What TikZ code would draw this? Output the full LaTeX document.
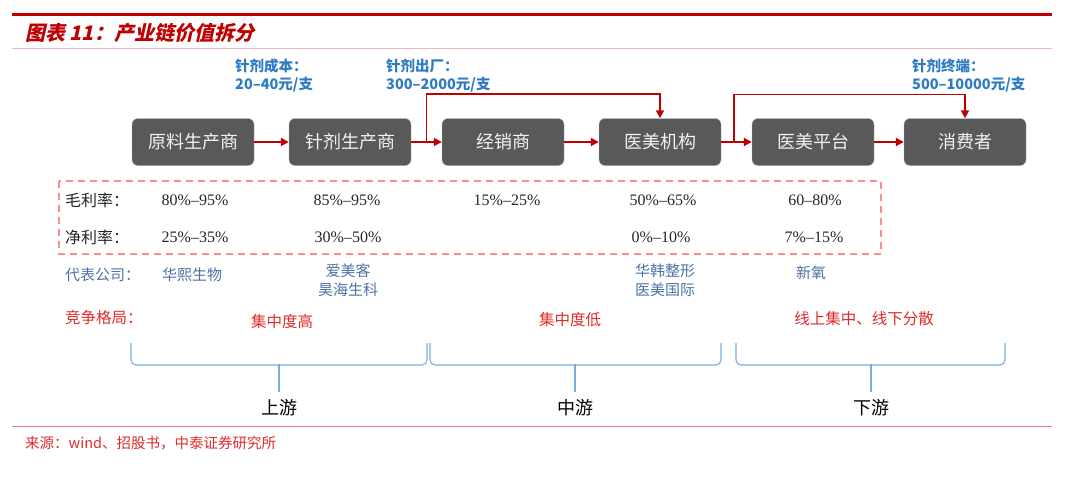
\documentclass[tikz,border=0pt]{standalone}
\usepackage{fontspec}
\setmainfont{Liberation Serif}
\newfontfamily\cjk{Noto Sans CJK SC}
\newfontfamily\cjkit[FakeSlant=0.22]{Noto Sans CJK SC}
\usetikzlibrary{arrows.meta,calc}
\definecolor{dred}{HTML}{C00000}
\definecolor{pinkl}{HTML}{F2B8B8}
\definecolor{boxg}{HTML}{595959}
\definecolor{lblue}{HTML}{2E7BC4}
\definecolor{cblue}{HTML}{4A72A6}
\definecolor{cred}{HTML}{E02A2A}
\definecolor{brc}{HTML}{7AAEDD}
\definecolor{dashc}{HTML}{FF8A8A}
\definecolor{srcline}{HTML}{E77C7C}
\tikzset{
  stage/.style={draw=gray!70, fill=boxg, rounded corners=6pt, minimum width=122pt, minimum height=47pt,
    text=white!95!black, font=\cjk\fontsize{18}{20}\selectfont, inner sep=0pt},
  arr/.style={draw=dred, line width=1.8pt, -{Triangle[length=8pt,width=8pt]}},
  price/.style={text=lblue, font=\cjk\bfseries\fontsize{14.5}{18}\selectfont, align=left, anchor=north west, inner sep=0pt},
  rowlab/.style={font=\cjk\fontsize{16}{18}\selectfont, anchor=west, inner sep=0pt, text=black!85},
  val/.style={font=\fontsize{16}{18}\selectfont, inner sep=0pt, text=black!85},
  comp/.style={font=\cjk\fontsize{15}{19}\selectfont, text=cblue, align=center, inner sep=0pt},
  compet/.style={font=\cjk\fontsize{15.5}{18}\selectfont, text=cred, inner sep=0pt},
  brace/.style={draw=brc, line width=1.1pt, rounded corners=5pt},
  seg/.style={font=\cjk\fontsize{18}{20}\selectfont, text=black, inner sep=0pt},
}
\begin{document}
\begin{tikzpicture}[x=1pt,y=-1pt]
\useasboundingbox (0,0) rectangle (1080,477);
% header
\draw[dred, line width=3pt] (12,14) -- (1052,14);
\node[anchor=west, text=dred, font=\cjkit\bfseries\fontsize{20}{22}\selectfont, inner sep=0pt] (title) at (25,33) {图表 11：产业链价值拆分};
\draw[pinkl, line width=1pt] (12,48) -- (1052,48);
% stages
\node[stage] (b1) at (193,142) {原料生产商};
\node[stage] (b2) at (350,142) {针剂生产商};
\node[stage] (b3) at (503,142) {经销商};
\node[stage] (b4) at (660,142) {医美机构};
\node[stage] (b5) at (813,142) {医美平台};
\node[stage] (b6) at (965,142) {消费者};
% arrows
\draw[arr] (b1) -- (b2);
\draw[arr] (b2) -- (b3);
\draw[arr] (b3) -- (b4);
\draw[arr] (b4) -- (b5);
\draw[arr] (b5) -- (b6);
\coordinate (m1) at ($(b2.east)!0.5!(b3.west)$);
\coordinate (m2) at ($(b4.east)!0.42!(b5.west)$);
\draw[arr] (m1) -- (m1|-0,94) -| (b4.north);
\draw[arr] (m2) -- (m2|-0,94.5) -| (b6.north);
% price labels
\node[price] (p1) at (235,59) {针剂成本：\\20–40元/支};
\node[price] (p2) at (386,59) {针剂出厂：\\300–2000元/支};
\node[price] (p3) at (912,59) {针剂终端：\\500–10000元/支};
% dashed box
\draw[dashc, line width=1.5pt, dash pattern=on 7pt off 5pt] (59,181) rectangle (881,254);
\node[rowlab] (r1) at (65,200) {毛利率：};
\node[rowlab] (r2) at (65,237) {净利率：};
\node[val] (v11) at (195,200) {80\%–95\%};
\node[val] (v12) at (347,200) {85\%–95\%};
\node[val] (v13) at (507,200) {15\%–25\%};
\node[val] (v14) at (663,200) {50\%–65\%};
\node[val] (v15) at (815,200) {60–80\%};
\node[val] (v21) at (195,237) {25\%–35\%};
\node[val] (v22) at (348,237) {30\%–50\%};
\node[val] (v24) at (661,237) {0\%–10\%};
\node[val] (v25) at (814,237) {7\%–15\%};
% companies
\node[comp, anchor=west] (c0) at (65,275) {代表公司：};
\node[comp] (c1) at (192,275) {华熙生物};
\node[comp] (c2) at (348,280) {爱美客\\昊海生科};
\node[comp] (c4) at (665,280) {华韩整形\\医美国际};
\node[comp] (c5) at (811,273) {新氧};
% competition
\node[compet, anchor=west] (k0) at (65,318) {竞争格局：};
\node[compet] (k1) at (282,322) {集中度高};
\node[compet] (k2) at (570,320) {集中度低};
\node[compet] (k3) at (864,319) {线上集中、线下分散};
% braces
\draw[brace] (131,343) -- (131,365) -- (279,365);
\draw[brace] (427,343) -- (427,365) -- (279,365);
\draw[brace] (279,364) -- (279,392);
\draw[brace] (430,343) -- (430,365) -- (575,365);
\draw[brace] (721,343) -- (721,365) -- (575,365);
\draw[brace] (575,364) -- (575,392);
\draw[brace] (736,343) -- (736,365) -- (871,365);
\draw[brace] (1005,343) -- (1005,365) -- (871,365);
\draw[brace] (871,364) -- (871,392);
\node[seg] (s1) at (279,408) {上游};
\node[seg] (s2) at (575,408) {中游};
\node[seg] (s3) at (871,408) {下游};
% source
\draw[srcline, line width=1pt] (12,426) -- (1052,426);
\node[anchor=west, text=cred, font=\cjk\fontsize{14.5}{16}\selectfont, inner sep=0pt] (src) at (25,443) {来源：wind、招股书，中泰证券研究所};
\end{tikzpicture}
\end{document}
